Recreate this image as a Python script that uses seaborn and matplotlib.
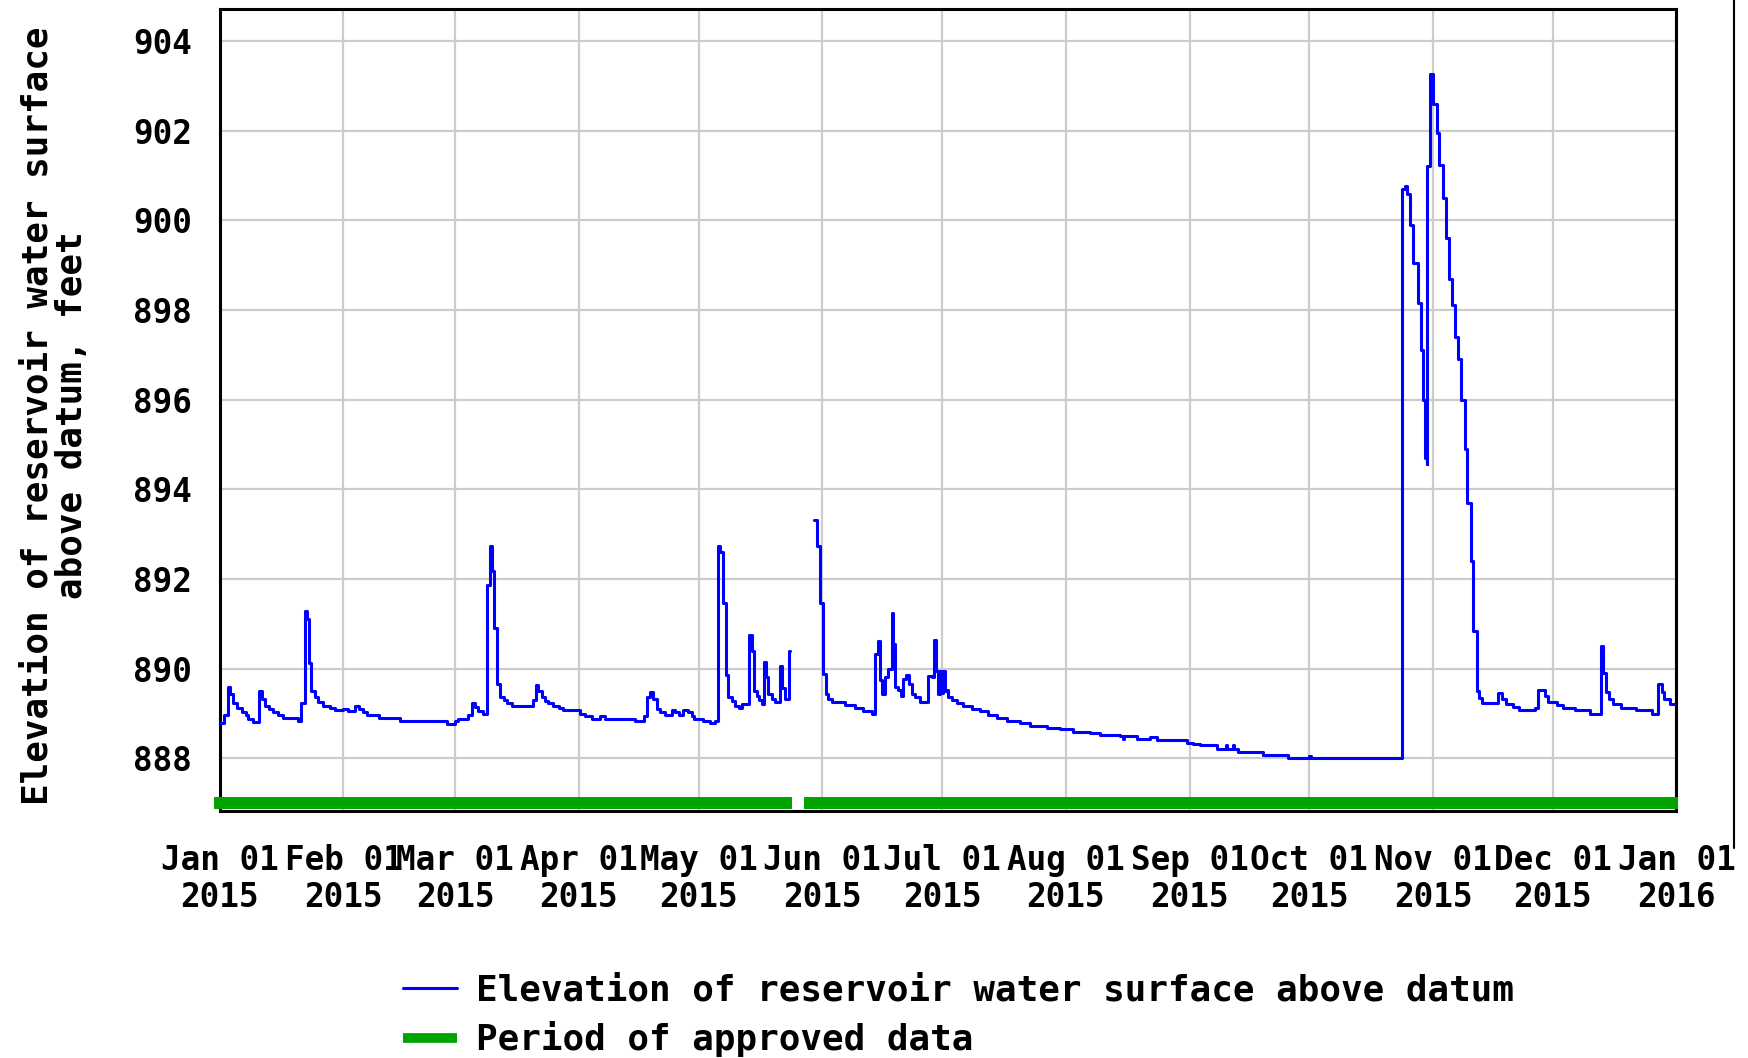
import matplotlib
matplotlib.use('Agg')
import matplotlib.pyplot as plt
import matplotlib.dates as mdates
from matplotlib.lines import Line2D
import seaborn as sns
import pandas as pd

# ------------------------------------------------------------
# Data: days since 2015-01-01 and elevation (ft)
# values are held until the next reading (step line)
# ------------------------------------------------------------
day = [0.0, 1.1, 2.2, 2.6, 3.4, 4.3, 5.5, 6.6, 7.2, 8.4, 9.9, 10.5, 11.4, 12.4,
       13.4, 14.7, 15.9, 19.7, 20.5, 21.4, 21.9, 22.4, 23.0, 23.9, 24.7, 26.0,
       27.6, 28.9, 31.0, 32.2, 33.9, 34.9, 35.8, 36.8, 39.8, 45.2, 57.0, 58.9,
       59.8, 62.3, 63.1, 64.0, 64.8, 66.1, 66.9, 67.7, 68.2, 68.8, 69.6, 70.3,
       71.2, 71.9, 73.2, 78.6, 79.3, 79.8, 80.7, 81.5, 82.3, 83.6, 84.9, 86.1,
       90.3, 91.5, 93.2, 95.3, 96.5, 104.1, 106.4, 107.1, 107.8, 108.5, 109.5,
       110.3, 111.6, 113.3, 114.1, 115.1, 116.2, 117.4, 118.3, 118.9, 121.2,
       122.9, 124.1, 124.9, 125.4, 126.2, 126.8, 127.4, 128.3, 129.1, 130.0,
       130.8, 132.7, 133.3, 133.9, 134.6, 135.1, 136.0, 136.5, 136.9, 137.5,
       138.3, 139.1, 140.4, 141.0, 141.6, 142.7, 142.9,
       149.0, 149.7, 150.4, 151.1, 151.8, 152.5, 153.3, 156.7, 159.2, 161.3,
       163.4, 164.2, 165.0, 165.5, 165.9, 166.7, 167.5, 168.4, 168.8, 169.2,
       170.0, 170.6, 171.1, 172.0, 172.8, 173.4, 174.2, 175.5, 177.6, 178.4,
       179.0, 179.5, 180.1, 180.5, 180.9, 181.3, 181.7, 182.0, 182.6, 183.4,
       184.7, 186.3, 188.4, 190.5, 192.6, 194.7, 197.2, 200.5, 203.0, 207.2,
       210.6, 213.9, 218.1, 220.6, 225.6, 226.3, 226.6, 229.8, 233.1, 234.8,
       239.4, 242.3, 244.0, 245.6, 249.8, 252.2, 252.5, 253.8, 254.1, 255.2,
       261.5, 267.8, 270.3, 273.0, 273.4, 296.3, 297.0, 297.6, 298.2, 299.1,
       300.2, 300.9, 301.6, 302.1, 302.4, 302.6, 303.3, 304.1, 304.9, 305.6,
       306.4, 307.2, 307.9, 308.7, 309.5, 310.3, 311.1, 312.0, 312.6, 313.5,
       314.1, 315.0, 315.6, 316.4, 320.2, 321.2, 322.3, 324.0, 325.6, 329.6,
       330.4, 332.1, 332.7, 335.0, 336.5, 339.7, 343.3, 346.1, 346.7, 347.4,
       348.2, 349.2, 351.0, 354.9, 358.8, 360.4, 361.3, 362.0, 363.4, 365.0]

elev = [888.80, 888.97, 889.60, 889.44, 889.24, 889.12, 889.04, 888.97, 888.88,
        888.82, 889.50, 889.33, 889.18, 889.10, 889.03, 888.97, 888.90, 888.84,
        889.24, 891.29, 891.10, 890.12, 889.51, 889.38, 889.25, 889.18, 889.12,
        889.07, 889.11, 889.05, 889.16, 889.10, 889.03, 888.97, 888.90, 888.84,
        888.77, 888.84, 888.87, 888.98, 889.23, 889.15, 889.05, 888.99, 891.86,
        892.73, 892.18, 890.90, 889.66, 889.38, 889.30, 889.23, 889.18, 889.31,
        889.64, 889.50, 889.38, 889.29, 889.23, 889.18, 889.12, 889.07,
        888.99, 888.95, 888.89, 888.95, 888.89, 888.84, 888.95, 889.36, 889.49,
        889.33, 889.10, 889.04, 888.97, 889.08, 889.03, 888.97, 889.08, 889.03,
        888.95, 888.89, 888.83, 888.78, 888.83, 892.74, 892.61, 891.46, 889.86,
        889.38, 889.29, 889.17, 889.13, 889.22, 890.76, 890.40, 889.51, 889.40,
        889.30, 889.22, 890.14, 889.81, 889.43, 889.32, 889.25, 890.07, 889.58,
        889.32, 890.40, 890.40,
        893.32, 892.74, 891.46, 889.88, 889.43, 889.32, 889.26, 889.19, 889.12,
        889.05, 889.00, 890.33, 890.63, 889.74, 889.44, 889.81, 890.00, 891.24,
        890.56, 889.59, 889.52, 889.40, 889.78, 889.87, 889.65, 889.44, 889.36,
        889.26, 889.85, 889.81, 890.64, 889.96, 889.44, 889.94, 889.45, 889.95,
        889.50, 889.52, 889.37, 889.31, 889.24, 889.17, 889.11, 889.05, 888.98,
        888.91, 888.84, 888.78, 888.73, 888.67, 888.65, 888.59, 888.56, 888.52,
        888.50, 888.43, 888.50, 888.44, 888.48, 888.42, 888.41, 888.35, 888.33,
        888.31, 888.22, 888.30, 888.22, 888.30, 888.22, 888.15, 888.07, 888.01,
        888.00, 888.05, 888.00, 900.69, 900.77, 900.58, 899.90, 899.04, 898.16,
        897.10, 896.00, 894.70, 894.56, 901.20, 903.27, 902.60, 901.95, 901.24,
        900.50, 899.60, 898.70, 898.10, 897.40, 896.90, 896.00, 894.90, 893.70,
        892.40, 890.85, 889.50, 889.34, 889.23, 889.45, 889.33, 889.22, 889.15,
        889.07, 889.12, 889.53, 889.40, 889.26, 889.20, 889.12, 889.07, 889.00,
        890.50, 889.90, 889.48, 889.33, 889.22, 889.13, 889.07, 889.00, 889.65,
        889.48, 889.33, 889.22, 889.22]

# approved-data periods (green bar)
approved_start = ['2015-01-01', '2015-05-29']
approved_end = ['2015-05-23', '2015-12-31']
approved_level = 887.0

series_label = 'Elevation of reservoir water surface above datum'
approved_label = 'Period of approved data'
y_label = 'Elevation of reservoir water surface\nabove datum, feet'
y_ticks = [888, 890, 892, 894, 896, 898, 900, 902, 904]

# ------------------------------------------------------------
# Tables
# ------------------------------------------------------------
t0 = pd.Timestamp('2015-01-01')
df = pd.DataFrame({'day': day, 'elev': elev})
df['date'] = t0 + pd.to_timedelta(df['day'], unit='D')
df['segment'] = (df['day'] > 145).astype(int)   # data gap late May

rows = []
for i, (s, e) in enumerate(zip(approved_start, approved_end)):
    rows.append({'date': pd.Timestamp(s), 'level': approved_level, 'period': i})
    rows.append({'date': pd.Timestamp(e), 'level': approved_level, 'period': i})
df_appr = pd.DataFrame(rows)

# ------------------------------------------------------------
# Style
# ------------------------------------------------------------
sns.set_theme(style='whitegrid')
plt.rcParams['font.family'] = ['DejaVu Sans Mono']
plt.rcParams['font.weight'] = 'bold'
plt.rcParams['axes.labelweight'] = 'bold'
plt.rcParams['text.color'] = 'black'
plt.rcParams['axes.labelcolor'] = 'black'

FS = 23.5      # tick labels
FS_BIG = 25.8  # axis title and legend
BLUE = '#0000ff'
GREEN = '#00a300'

fig = plt.figure(figsize=(17.49, 10.58), dpi=100)
ax = fig.add_axes([0.1256, 0.2335, 0.8329, 0.7580])

sns.lineplot(data=df, x='date', y='elev', units='segment', estimator=None,
             drawstyle='steps-post', color=BLUE, lw=2.2, ax=ax, zorder=3)
sns.lineplot(data=df_appr, x='date', y='level', units='period',
             estimator=None, color=GREEN, lw=8.6, ax=ax, zorder=4)
for ln in ax.get_lines()[-2:]:
    ln.set_solid_capstyle('projecting')
    ln.set_clip_on(False)

ax.set_xlim(pd.Timestamp('2015-01-01'), pd.Timestamp('2016-01-01'))
ax.set_ylim(886.83, 904.71)
ax.set_yticks(y_ticks)
ax.xaxis.set_major_locator(mdates.MonthLocator())
ax.xaxis.set_major_formatter(mdates.DateFormatter('%b %d\n%Y'))

ax.grid(True, color='#cccccc', lw=1.6)
ax.set_axisbelow(True)
for sp in ax.spines.values():
    sp.set_color('black')
    sp.set_linewidth(2.2)
    sp.set_visible(True)

ax.tick_params(axis='both', length=0, labelsize=FS, colors='black')
ax.tick_params(axis='x', pad=24)
ax.tick_params(axis='y', pad=20)
for lab in ax.get_xticklabels():
    lab.set_linespacing(1.15)

ax.set_xlabel('')
ax.set_ylabel(y_label, fontsize=FS_BIG, color='black', linespacing=1.0)
ax.yaxis.set_label_coords(-0.0898, 0.493)

handles = [Line2D([], [], color=BLUE, lw=2.2),
           Line2D([], [], color=GREEN, lw=7.0, solid_capstyle='butt')]
fig.legend(handles, [series_label, approved_label], loc='upper left',
           bbox_to_anchor=(0.2305, 0.080), frameon=False, fontsize=FS_BIG,
           labelcolor='black', handlelength=1.5, handletextpad=0.53,
           labelspacing=0.39, borderpad=0, borderaxespad=0)

# thin border line at the far right of the original picture
fig.add_artist(Line2D([1734 / 1749, 1734 / 1749], [1.0, 1 - 848 / 1058],
                      color='black', lw=1.5, transform=fig.transFigure))

plt.savefig('out.png', dpi=100)
plt.close()
